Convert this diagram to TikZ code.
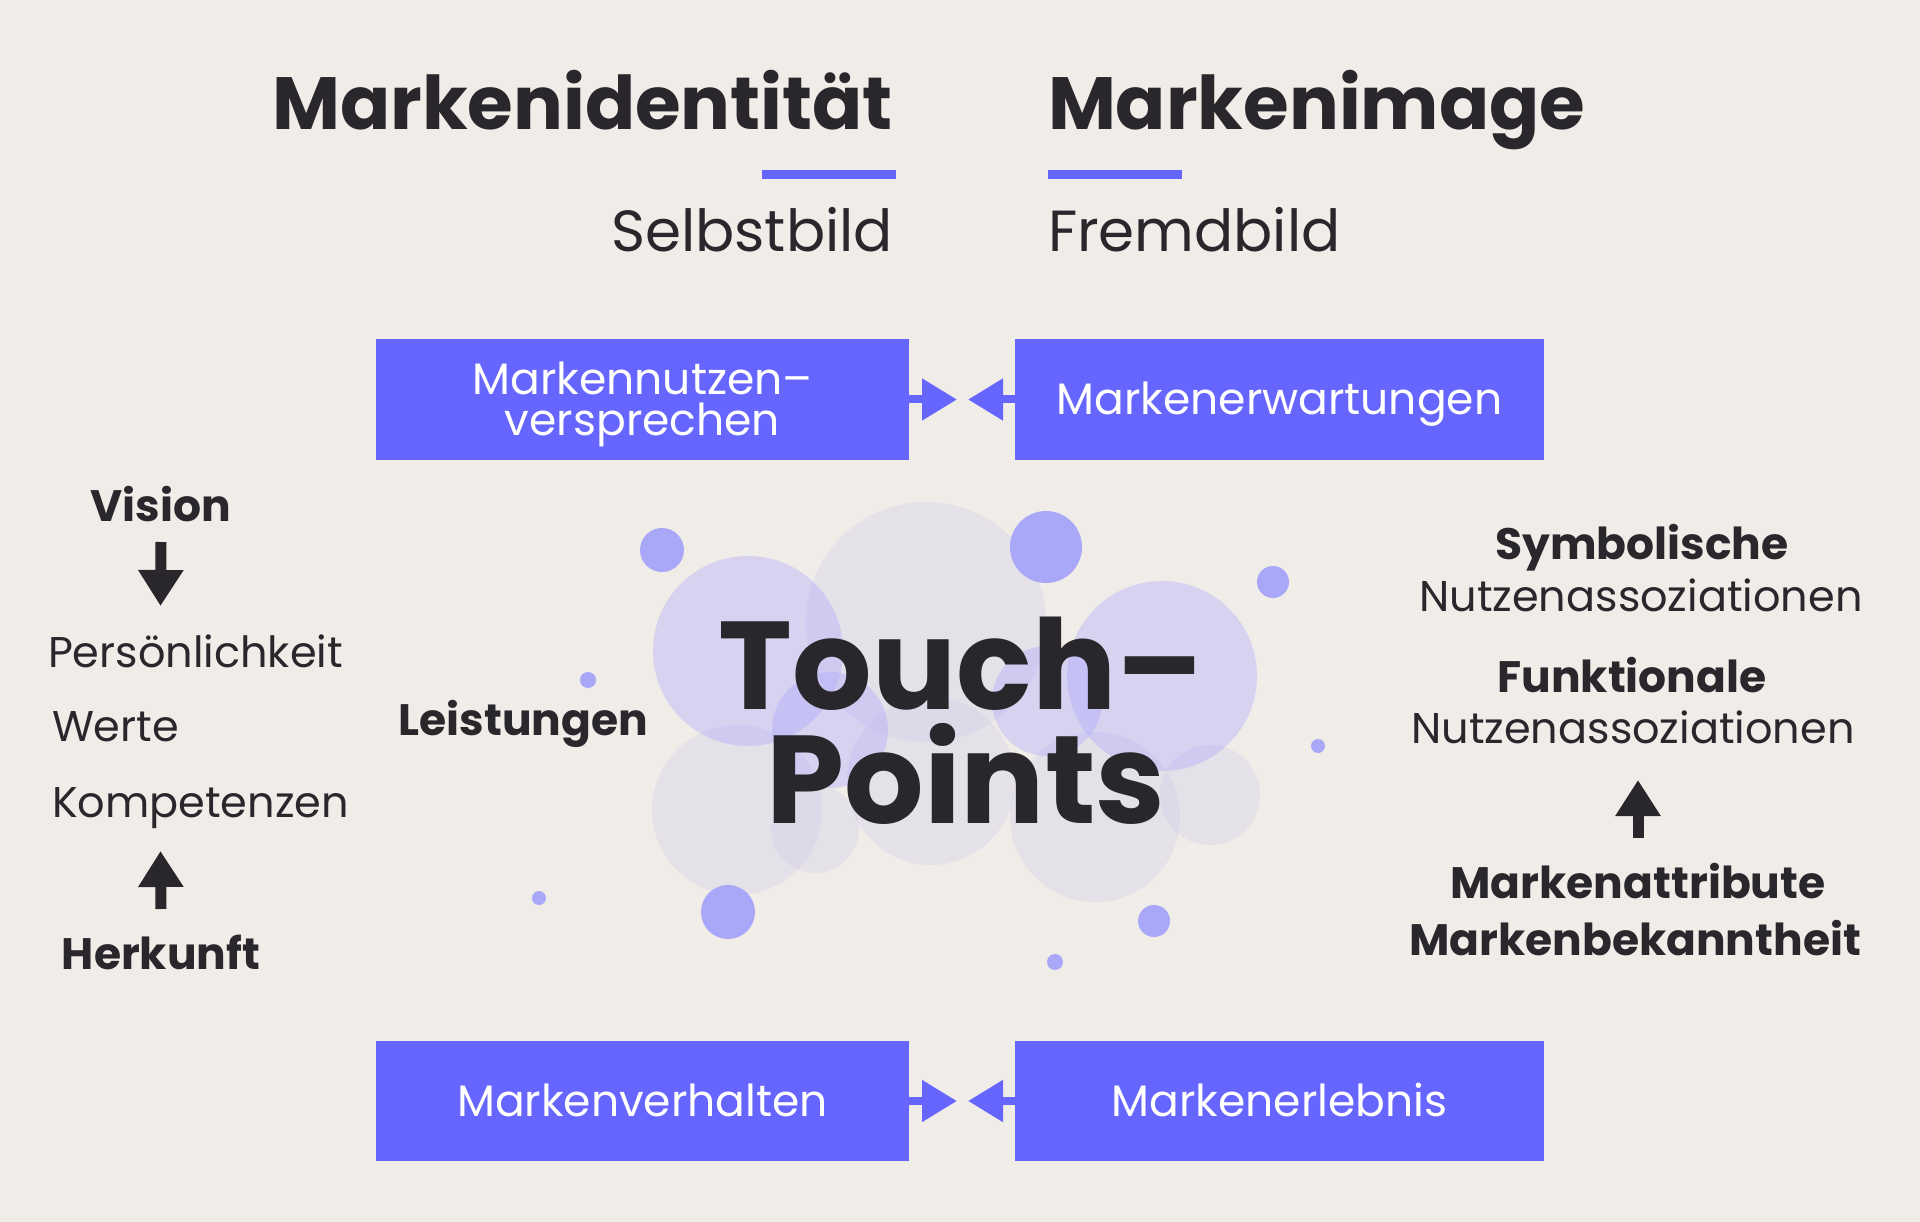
\documentclass[tikz,border=0pt]{standalone}
\usepackage{fontspec}
\setmainfont{Poppins}
\usetikzlibrary{arrows.meta}
\definecolor{bg}{HTML}{F0ECE8}
\definecolor{ink}{HTML}{29272C}
\definecolor{brand}{HTML}{6666FF}
\definecolor{dotc}{HTML}{A9A8F8}
\definecolor{lavc}{RGB}{170,165,255}
\definecolor{greyc}{RGB}{205,200,235}
\begin{document}
\begin{tikzpicture}[x=1pt,y=-1pt,
  every node/.style={inner sep=0pt, outer sep=0pt, text=ink},
  title/.style={font=\fontsize{74}{74}\selectfont\bfseries},
  subtitle/.style={font=\fontsize{58}{58}\selectfont},
  lbl/.style={font=\fontsize{44}{44}\selectfont\bfseries},
  txt/.style={font=\fontsize{43}{43}\selectfont},
  big/.style={font=\fontsize{125}{125}\selectfont\bfseries},
  brandbox/.style={fill=brand, text=white, font=\fontsize{44}{41}\selectfont,
    minimum height=121pt, text height=31pt, text depth=0pt},
  conn/.style={draw=brand, line width=8pt, -{Triangle[length=35pt,width=40pt]}},
  blackarrow/.style={draw=ink, line width=11pt, -{Triangle[length=36pt,width=43pt]}},
  greybub/.style={fill=greyc, fill opacity=0.3},
  lavbub/.style={fill=lavc, fill opacity=0.36},
  dotbub/.style={fill=dotc}
]
\fill[bg] (0,0) rectangle (1920,1222);
\useasboundingbox (0,0) rectangle (1920,1222);

% bubbles
\fill[greybub] (926,622) circle[radius=120pt];
\fill[greybub] (737,810) circle[radius=85pt];
\fill[greybub] (815,829) circle[radius=44pt];
\fill[greybub] (931,781) circle[radius=84pt];
\fill[greybub] (1095,817) circle[radius=85pt];
\fill[greybub] (1210,795) circle[radius=50pt];
\fill[lavbub] (748,651) circle[radius=95pt];
\fill[lavbub] (1162,676) circle[radius=95pt];
\fill[lavbub] (830,730) circle[radius=58pt];
\fill[lavbub] (1047,701) circle[radius=55pt];
\fill[dotbub] (662,550) circle[radius=22pt];
\fill[dotbub] (1046,547) circle[radius=36pt];
\fill[dotbub] (1273,582) circle[radius=16pt];
\fill[dotbub] (728,912) circle[radius=27pt];
\fill[dotbub] (1154,921) circle[radius=16pt];
\fill[dotbub] (1055,962) circle[radius=8pt];
\fill[dotbub] (588,680) circle[radius=8pt];
\fill[dotbub] (539,898) circle[radius=7pt];
\fill[dotbub] (1318,746) circle[radius=7pt];

% titles
\node[title, anchor=base east] (tid) at (893,130) {Markenidentität};
\node[title, anchor=base west] (tim) at (1048,130) {Markenimage};
\fill[brand] (762,170) rectangle (896,179);
\fill[brand] (1048,170) rectangle (1182,179);
\node[subtitle, anchor=base east] (sb) at (893,252) {Selbstbild};
\node[subtitle, anchor=base west] (fb) at (1048,252) {Fremdbild};

% boxes
\node[brandbox, minimum width=533pt, text height=72pt] (bTL) at (642.5,399.5)
  {\vbox{\halign{\hfil#\hfil\cr Markennutzen–\cr versprechen\cr}}};
\node[brandbox, minimum width=529pt] (bTR) at (1279.5,399.5) {Markenerwartungen};
\node[brandbox, minimum width=533pt, minimum height=120pt] (bBL) at (642.5,1101) {Markenverhalten};
\node[brandbox, minimum width=529pt, minimum height=120pt] (bBR) at (1279.5,1101) {Markenerlebnis};

\coordinate (tTL) at (957,399.5);
\coordinate (tTR) at (968,399.5);
\coordinate (tBL) at (957,1101);
\coordinate (tBR) at (968,1101);
\draw[conn] (bTL.east) -- (tTL);
\draw[conn] (bTR.west) -- (tTR);
\draw[conn] (bBL.east) -- (tBL);
\draw[conn] (bBR.west) -- (tBR);

% left column
\node[lbl, anchor=base] (vision) at (161,521) {Vision};
\node[txt, anchor=base west] (pers) at (48,667) {Persönlichkeit};
\node[txt, anchor=base west] (werte) at (52,741) {Werte};
\node[txt, anchor=base west] (komp) at (52,817) {Kompetenzen};
\node[lbl, anchor=base] (herk) at (161,969) {Herkunft};
\coordinate (vtip) at (160.5,606);
\coordinate (htip) at (160.5,851);
\draw[blackarrow] (vision.south |- 0,542) -- (vtip);
\draw[blackarrow] (herk.north |- 0,909) -- (htip);

\node[lbl, anchor=base east] (leist) at (648,735) {Leistungen};

% center
\node[big, anchor=base] (touch) at (961,709) {Touch–};
\node[big, anchor=base] (points) at (966,823) {Points};

% right column
\node[lbl, anchor=base] (sym) at (1642,559) {Symbolische};
\node[txt, anchor=base] (nutz1) at (1641,611) {Nutzenassoziationen};
\node[lbl, anchor=base] (funk) at (1632,692) {Funktionale};
\node[txt, anchor=base] (nutz2) at (1633,743) {Nutzenassoziationen};
\node[lbl, anchor=base] (attr) at (1638,898) {Markenattribute};
\node[lbl, anchor=base] (bek) at (1635,955) {Markenbekanntheit};
\coordinate (rtip) at (1638,780);
\draw[blackarrow] (1638,838) -- (rtip);
\end{tikzpicture}
\end{document}
